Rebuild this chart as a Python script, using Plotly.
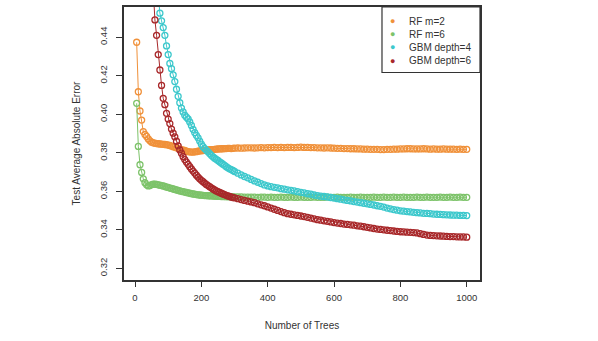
import plotly.graph_objects as go

# Number of trees
trees = list(range(5, 301, 5)) + list(range(310, 1001, 10))

rf_m2 = [
    # 5..300 step 5
    0.4374, 0.4117, 0.4017, 0.3970, 0.3910, 0.3895, 0.3885, 0.3872, 0.3862, 0.3855,
    0.3852, 0.3850, 0.3848, 0.3847, 0.3846, 0.3845, 0.3844, 0.3843, 0.3842, 0.3840,
    0.3838, 0.3835, 0.3832, 0.3829, 0.3826, 0.3823, 0.3820, 0.3817, 0.3814, 0.3812,
    0.3809, 0.3806, 0.3805, 0.3804, 0.3804, 0.3805, 0.3806, 0.3808, 0.3810, 0.3811,
    0.3812, 0.3813, 0.3814, 0.3815, 0.3816, 0.3817, 0.3817, 0.3818, 0.3819, 0.3820,
    0.3820, 0.3821, 0.3821, 0.3822, 0.3822, 0.3823, 0.3823, 0.3822, 0.3823, 0.3824,
    # 310..1000 step 10
    0.3825, 0.3824, 0.3825, 0.3826, 0.3826,
    0.3825, 0.3826, 0.3827, 0.3826, 0.3827, 0.3827, 0.3828, 0.3827, 0.3828, 0.3827,
    0.3828, 0.3828, 0.3827, 0.3828, 0.3829, 0.3828, 0.3828, 0.3827, 0.3827, 0.3826,
    0.3826, 0.3825, 0.3826, 0.3825, 0.3824, 0.3823, 0.3823, 0.3822, 0.3822, 0.3821,
    0.3821, 0.3820, 0.3820, 0.3819, 0.3819, 0.3818, 0.3818, 0.3818, 0.3817, 0.3817,
    0.3818, 0.3818, 0.3819, 0.3819, 0.3820, 0.3820, 0.3821, 0.3821, 0.3820, 0.3820,
    0.3820, 0.3821, 0.3820, 0.3819, 0.3820, 0.3819, 0.3819, 0.3820, 0.3819, 0.3819,
    0.3819, 0.3818, 0.3819, 0.3818, 0.3818,
]

rf_m6 = [
    0.4057, 0.3833, 0.3738, 0.3698, 0.3665, 0.3645, 0.3634, 0.3628, 0.3630, 0.3635,
    0.3637, 0.3637, 0.3636, 0.3634, 0.3632, 0.3630, 0.3628, 0.3625, 0.3622, 0.3620,
    0.3617, 0.3615, 0.3612, 0.3610, 0.3607, 0.3605, 0.3602, 0.3600, 0.3598, 0.3596,
    0.3594, 0.3592, 0.3590, 0.3588, 0.3586, 0.3585, 0.3583, 0.3582, 0.3581, 0.3580,
    0.3579, 0.3578, 0.3578, 0.3577, 0.3577, 0.3576, 0.3576, 0.3575, 0.3575, 0.3574,
    0.3574, 0.3573, 0.3573, 0.3573, 0.3572, 0.3572, 0.3572, 0.3572, 0.3571, 0.3571,
    0.3571, 0.3571, 0.3570, 0.3570, 0.3570,
    0.3570, 0.3569, 0.3570, 0.3570, 0.3569, 0.3570, 0.3569, 0.3569, 0.3570, 0.3569,
    0.3569, 0.3570, 0.3569, 0.3569, 0.3570, 0.3569, 0.3569, 0.3569, 0.3570, 0.3569,
    0.3569, 0.3569, 0.3570, 0.3569, 0.3569, 0.3570, 0.3569, 0.3569, 0.3569, 0.3570,
    0.3569, 0.3569, 0.3570, 0.3569, 0.3569, 0.3569, 0.3570, 0.3569, 0.3569, 0.3570,
    0.3569, 0.3569, 0.3570, 0.3569, 0.3569, 0.3570, 0.3569, 0.3569, 0.3569, 0.3570,
    0.3569, 0.3569, 0.3570, 0.3569, 0.3569, 0.3569, 0.3570, 0.3569, 0.3569, 0.3570,
    0.3569, 0.3569, 0.3570, 0.3569, 0.3569,
]

gbm_d4 = [
    0.620, 0.605, 0.590, 0.576, 0.562, 0.549, 0.537, 0.525, 0.514, 0.503,
    0.492, 0.482, 0.472, 0.463, 0.4525, 0.4485, 0.4450, 0.4410, 0.4355, 0.4310,
    0.4264, 0.4237, 0.4205, 0.4170, 0.4130, 0.4093, 0.4060, 0.4032, 0.4012, 0.3995,
    0.3985, 0.3976, 0.3960, 0.3942, 0.3922, 0.3905, 0.3891, 0.3878, 0.3861, 0.3845,
    0.3832, 0.3822, 0.3813, 0.3805, 0.3796, 0.3787, 0.3779, 0.3772, 0.3766, 0.3760,
    0.3753, 0.3747, 0.3741, 0.3735, 0.3728, 0.3722, 0.3717, 0.3713, 0.3708, 0.3703,
    0.3694, 0.3685, 0.3677, 0.3670, 0.3662,
    0.3654, 0.3647, 0.3640, 0.3633, 0.3628, 0.3624, 0.3621, 0.3618, 0.3614, 0.3611,
    0.3608, 0.3605, 0.3602, 0.3598, 0.3595, 0.3592, 0.3588, 0.3585, 0.3581, 0.3578,
    0.3575, 0.3573, 0.3571, 0.3568, 0.3565, 0.3562, 0.3559, 0.3556, 0.3553, 0.3550,
    0.3547, 0.3544, 0.3541, 0.3538, 0.3535, 0.3532, 0.3529, 0.3525, 0.3522, 0.3518,
    0.3513, 0.3509, 0.3505, 0.3502, 0.3499, 0.3497, 0.3495, 0.3493, 0.3491, 0.3489,
    0.3488, 0.3486, 0.3485, 0.3484, 0.3482, 0.3481, 0.3480, 0.3479, 0.3478, 0.3477,
    0.3476, 0.3476, 0.3475, 0.3475, 0.3474,
]

gbm_d6 = [
    0.680, 0.650, 0.622, 0.597, 0.574, 0.552, 0.532, 0.513, 0.495, 0.478,
    0.462, 0.4490, 0.4410, 0.4310, 0.4230, 0.4150, 0.4083, 0.4050, 0.4005, 0.3975,
    0.3952, 0.3923, 0.3902, 0.3883, 0.3860, 0.3836, 0.3815, 0.3798, 0.3780, 0.3765,
    0.3752, 0.3740, 0.3728, 0.3716, 0.3705, 0.3695, 0.3684, 0.3674, 0.3665, 0.3657,
    0.3650, 0.3643, 0.3636, 0.3630, 0.3624, 0.3618, 0.3612, 0.3607, 0.3602, 0.3598,
    0.3594, 0.3590, 0.3586, 0.3583, 0.3579, 0.3576, 0.3573, 0.3570, 0.3568, 0.3566,
    0.3562, 0.3557, 0.3553, 0.3549, 0.3545,
    0.3541, 0.3535, 0.3530, 0.3525, 0.3519, 0.3513, 0.3507, 0.3501, 0.3495, 0.3489,
    0.3484, 0.3481, 0.3478, 0.3475, 0.3472, 0.3469, 0.3465, 0.3461, 0.3457, 0.3453,
    0.3450, 0.3447, 0.3444, 0.3441, 0.3438, 0.3435, 0.3433, 0.3430, 0.3428, 0.3426,
    0.3424, 0.3421, 0.3419, 0.3416, 0.3413, 0.3410, 0.3407, 0.3404, 0.3402, 0.3400,
    0.3398, 0.3396, 0.3394, 0.3392, 0.3390, 0.3389, 0.3388, 0.3387, 0.3386, 0.3384,
    0.3380, 0.3376, 0.3373, 0.3371, 0.3370, 0.3369, 0.3368, 0.3367, 0.3366, 0.3365,
    0.3365, 0.3364, 0.3363, 0.3363, 0.3362,
]

names = ["RF m=2", "RF m=6", "GBM depth=4", "GBM depth=6"]
colors = ["#F0913A", "#7DC36A", "#3CC8CC", "#A8282A"]
series = [rf_m2, rf_m6, gbm_d4, gbm_d6]

x_ticks = [0, 200, 400, 600, 800, 1000]
y_ticks = [0.32, 0.34, 0.36, 0.38, 0.40, 0.42, 0.44]
y_tick_text = ["0.32", "0.34", "0.36", "0.38", "0.40", "0.42", "0.44"]

FONT = "Liberation Sans, Arial, sans-serif"
INK = "#333333"

fig = go.Figure()
for name, col, ys in zip(names, colors, series):
    fig.add_trace(go.Scatter(
        x=trees, y=ys, mode="lines+markers", name=name, showlegend=False,
        line=dict(color=col, width=1),
        marker=dict(symbol="circle-open", size=6, color=col, line=dict(width=1.3, color=col)),
    ))

# Legend box (R-style), drawn in paper coordinates
leg_x0, leg_y0 = 0.7247, 0.760
dot_x, text_x = 0.7548, 0.795
row_y = [0.948, 0.8993, 0.852, 0.8036]
fig.add_shape(type="rect", xref="paper", yref="paper", x0=leg_x0, x1=1, y0=leg_y0, y1=1,
              line=dict(color=INK, width=1.2), fillcolor="white", layer="above")
for name, col, ry in zip(names, colors, row_y):
    fig.add_annotation(xref="paper", yref="paper", x=dot_x, y=ry, text="●", showarrow=False,
                       font=dict(size=9, color=col, family=FONT), xanchor="center", yanchor="middle")
    fig.add_annotation(xref="paper", yref="paper", x=text_x, y=ry, text=name, showarrow=False,
                       font=dict(size=10, color=INK, family=FONT), xanchor="left", yanchor="middle")

fig.update_layout(
    width=598, height=341,
    margin=dict(l=124, r=118, t=5, b=61),
    paper_bgcolor="white", plot_bgcolor="white",
    font=dict(family=FONT, size=10, color=INK),
    showlegend=False,
    xaxis=dict(
        range=[-33.2, 1040], tickvals=x_ticks, ticks="outside", ticklen=5,
        tickcolor=INK, tickwidth=1.2, showgrid=False, zeroline=False,
        showline=True, linecolor=INK, linewidth=1.5, mirror=True,
        tickfont=dict(size=9.5, color=INK), ticklabelstandoff=3,
        title=dict(text="Number of Trees", font=dict(size=10, color=INK), standoff=20),
    ),
    yaxis=dict(
        range=[0.31396, 0.4557], tickvals=y_ticks, ticktext=y_tick_text,
        ticks="outside", ticklen=6, tickcolor=INK, tickwidth=1.2, tickangle=-90,
        showgrid=False, zeroline=False,
        showline=True, linecolor=INK, linewidth=1.5, mirror=True,
        tickfont=dict(size=9.5, color=INK), ticklabelstandoff=5,
        title=dict(text="Test Average Absolute Error", font=dict(size=10, color=INK), standoff=16),
    ),
)

fig.write_html("out.html")
